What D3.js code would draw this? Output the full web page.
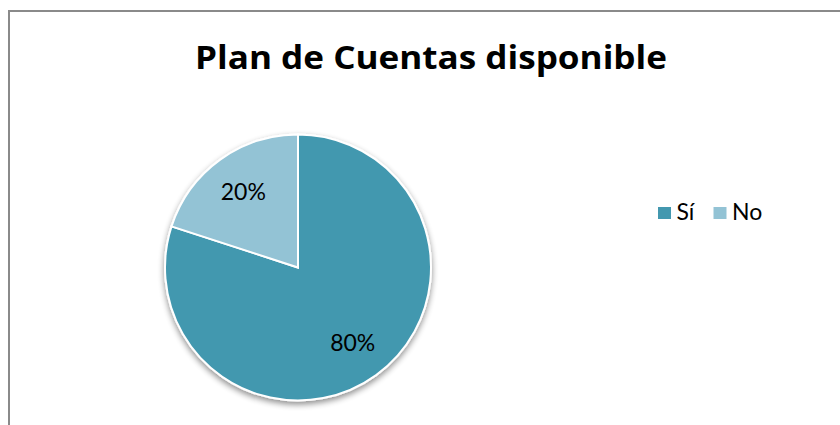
<!DOCTYPE html>
<html><head><meta charset="utf-8">
<script src="https://cdn.jsdelivr.net/npm/d3@7/dist/d3.min.js"></script>
<style>body{margin:0;background:#fff;}svg{display:block;font-family:Lato,"Open Sans",sans-serif;}</style>
</head><body>
<svg id="c" width="840" height="425"></svg>
<script>
const title = "Plan de Cuentas disponible";
const categories = ["Sí", "No"];
const values = [80, 20];
const colors = ["#4398AF", "#93C3D5"];

const svg = d3.select("#c");
const defs = svg.append("defs");
const f = defs.append("filter").attr("id","sh").attr("x","-20%").attr("y","-20%").attr("width","140%").attr("height","140%");
f.append("feGaussianBlur").attr("in","SourceAlpha").attr("stdDeviation",3);
f.append("feOffset").attr("dx",0).attr("dy",3).attr("result","b");
f.append("feComponentTransfer").append("feFuncA").attr("type","linear").attr("slope",0.45);
const m = f.append("feMerge"); m.append("feMergeNode"); m.append("feMergeNode").attr("in","SourceGraphic");

svg.append("rect").attr("x",9).attr("y",11).attr("width",900).attr("height",500)
  .attr("fill","#fff").attr("stroke","#8a8a8a").attr("stroke-width",2);

svg.append("text").attr("x",195).attr("y",68.5)
  .attr("font-family","'Open Sans',sans-serif")
  .attr("font-size",32).attr("font-weight","bold").attr("fill","#000")
  .attr("textLength",472).attr("lengthAdjust","spacingAndGlyphs").text(title);

const cx = 298, cy = 267.5, r = 133;
const total = d3.sum(values);
const pie = d3.pie().sort(null).value(d => d)(values);
const arc = d3.arc().innerRadius(0).outerRadius(r);
const g = svg.append("g").attr("transform",`translate(${cx},${cy})`);
g.append("g").attr("filter","url(#sh)").selectAll("path").data(pie).join("path")
  .attr("d",arc).attr("fill",(d,i)=>colors[i]).attr("stroke","#fff").attr("stroke-width",2);
const la = d3.arc().innerRadius(r*0.7).outerRadius(r*0.7);
g.selectAll("text").data(pie).join("text")
  .attr("transform",d=>`translate(${la.centroid(d)})`)
  .attr("text-anchor","middle").attr("dy","0.36em").attr("font-size",23).attr("fill","#000")
  .text(d=>Math.round(d.data/total*100)+"%");

const leg = svg.append("g");
const lx = [658, 713.5];
categories.forEach((c,i)=>{
  leg.append("rect").attr("x",lx[i]).attr("y",207).attr("width",13).attr("height",12).attr("fill",colors[i]);
  leg.append("text").attr("x",lx[i]+18.5).attr("y",220).attr("font-size",23).attr("fill","#000").text(c);
});
</script>
</body></html>
